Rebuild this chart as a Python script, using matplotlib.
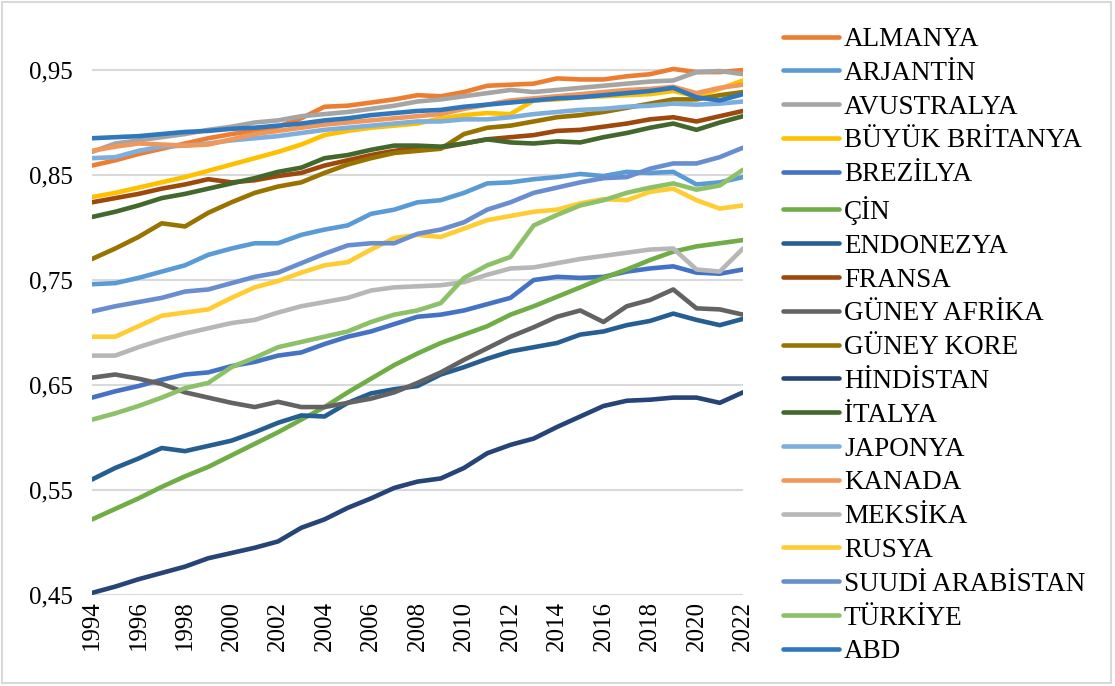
import matplotlib
matplotlib.use("Agg")
import matplotlib.pyplot as plt
import numpy as np
from matplotlib.patches import Rectangle

plt.rcParams['font.family'] = ['Liberation Serif', 'DejaVu Serif']

years = list(range(1994, 2023))

almanya = [.859,.864,.870,.875,.880,.885,.889,.892,.896,.904,.915,.916,.919,.922,.926,.925,.929,.935,.936,.937,.942,.941,.941,.944,.946,.951,.948,.948,.950]
arjantin = [.746,.747,.752,.758,.764,.774,.780,.785,.785,.793,.798,.802,.813,.817,.824,.826,.833,.842,.843,.846,.848,.851,.849,.853,.852,.853,.841,.843,.848]
avustralya = [.872,.880,.883,.886,.889,.893,.896,.900,.902,.906,.908,.910,.913,.916,.920,.922,.925,.928,.931,.929,.931,.933,.935,.937,.939,.940,.948,.949,.946]
buyuk_britanya = [.829,.833,.838,.843,.848,.854,.860,.866,.872,.879,.888,.892,.895,.897,.899,.904,.907,.909,.908,.921,.922,.924,.925,.926,.927,.930,.925,.932,.940]
brezilya = [.638,.644,.649,.655,.660,.662,.668,.672,.678,.681,.689,.696,.701,.708,.715,.717,.721,.727,.733,.750,.753,.752,.753,.758,.761,.763,.757,.756,.760]
cin = [.522,.532,.542,.553,.563,.572,.583,.594,.605,.617,.629,.643,.656,.669,.680,.690,.698,.706,.717,.725,.734,.743,.752,.760,.769,.777,.782,.785,.788]
endonezya = [.560,.571,.580,.590,.587,.592,.597,.605,.614,.621,.620,.633,.642,.646,.649,.660,.667,.675,.682,.686,.690,.698,.701,.707,.711,.718,.712,.707,.713]
fransa = [.824,.828,.832,.837,.841,.846,.843,.845,.849,.852,.859,.864,.869,.873,.876,.876,.880,.884,.886,.888,.892,.893,.896,.899,.903,.905,.901,.906,.911]
guney_afrika = [.657,.660,.656,.651,.643,.638,.633,.629,.634,.629,.629,.633,.637,.643,.652,.662,.674,.685,.696,.705,.715,.721,.710,.725,.731,.741,.723,.722,.717]
guney_kore = [.770,.780,.791,.804,.801,.814,.824,.833,.839,.843,.852,.860,.866,.871,.873,.875,.889,.895,.897,.901,.905,.907,.910,.914,.918,.922,.922,.926,.929]
hindistan = [.452,.458,.465,.471,.477,.485,.490,.495,.501,.514,.522,.533,.542,.552,.558,.561,.571,.585,.593,.599,.610,.620,.630,.635,.636,.638,.638,.633,.643]
italya = [.810,.815,.821,.828,.832,.837,.842,.847,.853,.857,.866,.869,.874,.878,.878,.877,.880,.884,.881,.880,.882,.881,.886,.890,.895,.899,.893,.900,.906]
japonya = [.866,.867,.873,.877,.878,.880,.883,.885,.887,.890,.893,.895,.897,.899,.901,.901,.903,.903,.905,.908,.910,.912,.913,.915,.916,.918,.917,.918,.920]
kanada = [.873,.877,.880,.879,.878,.879,.884,.889,.892,.895,.898,.900,.902,.904,.906,.908,.913,.917,.921,.923,.925,.927,.929,.931,.932,.934,.928,.933,.936]
meksika = [.678,.678,.686,.693,.699,.704,.709,.712,.719,.725,.729,.733,.740,.743,.744,.745,.748,.755,.761,.762,.766,.770,.773,.776,.779,.780,.760,.758,.780]
rusya = [.696,.696,.706,.716,.719,.722,.733,.743,.749,.757,.764,.767,.779,.790,.793,.791,.799,.807,.811,.815,.817,.823,.827,.826,.834,.837,.826,.818,.821]
suudi_arabistan = [.720,.725,.729,.733,.739,.741,.747,.753,.757,.766,.775,.783,.785,.785,.794,.798,.805,.817,.824,.833,.838,.843,.847,.848,.856,.861,.861,.867,.876]
turkiye = [.617,.623,.630,.638,.647,.652,.667,.676,.686,.691,.696,.701,.710,.717,.721,.728,.752,.764,.772,.802,.812,.821,.826,.833,.838,.842,.836,.840,.855]
abd = [.885,.886,.887,.889,.891,.892,.894,.895,.897,.899,.902,.904,.907,.909,.911,.912,.915,.917,.919,.921,.923,.924,.926,.928,.930,.933,.924,.921,.927]

names = ["ALMANYA", "ARJANTİN", "AVUSTRALYA", "BÜYÜK BRİTANYA", "BREZİLYA", "ÇİN",
         "ENDONEZYA", "FRANSA", "GÜNEY AFRİKA", "GÜNEY KORE", "HİNDİSTAN", "İTALYA",
         "JAPONYA", "KANADA", "MEKSİKA", "RUSYA", "SUUDİ ARABİSTAN", "TÜRKİYE", "ABD"]
series = [almanya, arjantin, avustralya, buyuk_britanya, brezilya, cin, endonezya, fransa,
          guney_afrika, guney_kore, hindistan, italya, japonya, kanada, meksika, rusya,
          suudi_arabistan, turkiye, abd]
colors = ["#ED7D31", "#5B9BD5", "#A5A5A5", "#FFC000", "#4472C4", "#70AD47", "#255E91",
          "#9E480E", "#636363", "#997300", "#264478", "#43682B", "#7CAFDD", "#F1975A",
          "#B7B7B7", "#FFCD33", "#698ED0", "#8CC168", "#2F78BE"]

y_ticks = [0.45, 0.55, 0.65, 0.75, 0.85, 0.95]
x_ticks = list(range(1994, 2023, 2))

fig = plt.figure(figsize=(11.15, 6.86), dpi=100)
ax = fig.add_axes([92/1115, 1-595/686, (743-92)/1115, (595-17.5)/686])

for name, vals, c in zip(names, series, colors):
    ax.plot(years, vals, color=c, lw=3.3, label=name, solid_capstyle='round', solid_joinstyle='round')

ax.set_xlim(1994, 2022)
ax.set_ylim(0.45, 1.0)
ax.set_yticks(y_ticks)
ax.set_yticklabels([f"{v:.2f}".replace(".", ",") for v in y_ticks], fontsize=18)
ax.set_xticks(x_ticks)
ax.set_xticklabels([str(x) for x in x_ticks], rotation=90, fontsize=18)
ax.tick_params(axis='both', length=0)
ax.tick_params(axis='y', pad=14)
ax.tick_params(axis='x', pad=4)
ax.grid(axis='y', color='#D9D9D9', lw=1.5)
ax.set_axisbelow(True)
for s in ax.spines.values():
    s.set_visible(False)

fig.legend(loc='upper left', bbox_to_anchor=(783/1115, 1-27/686), frameon=False,
           fontsize=19.5, handlelength=2.05, handletextpad=0.2, labelspacing=0.325,
           borderpad=0, borderaxespad=0)

fig.patches.append(Rectangle((0.002, 0.004), 0.994, 0.993, transform=fig.transFigure,
                             fill=False, edgecolor='#D9D9D9', lw=1.5))

fig.savefig("out.png", dpi=100)
